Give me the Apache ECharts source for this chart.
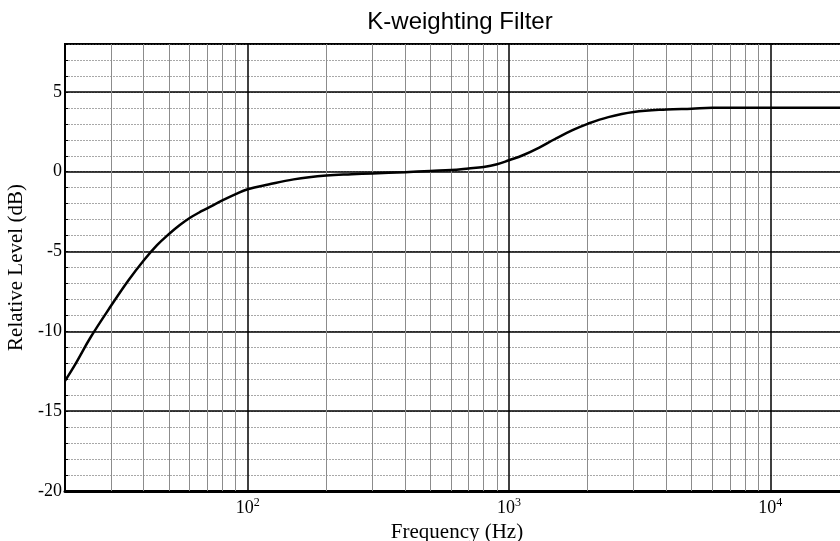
<!DOCTYPE html>
<html>
<head>
<meta charset="utf-8">
<script src="https://cdn.jsdelivr.net/npm/echarts@6/dist/echarts.min.js"></script>
<style>
  html, body { margin: 0; padding: 0; background: #fff; }
  #main { width: 840px; height: 541px; }
</style>
</head>
<body>
<div id="main"></div>
<script>
// 频率 (Hz) 和 电平 (dB)，从图上读出来的
var freqs = [20, 22, 25, 30, 35, 40, 45, 50, 55, 60, 65, 70, 80, 90, 100, 120, 150, 200, 250, 300, 400, 500, 600, 700, 800, 900, 1000, 1130, 1300, 1500, 1750, 2000, 2400, 3000, 4000, 5000, 6000, 8000, 10000, 20000];
var levels = [-13.1, -12.0, -10.4, -8.4, -6.8, -5.56, -4.6, -3.9, -3.34, -2.9, -2.57, -2.3, -1.8, -1.4, -1.1, -0.8, -0.48, -0.24, -0.16, -0.11, -0.03, 0.05, 0.1, 0.2, 0.3, 0.47, 0.72, 1.03, 1.5, 2.05, 2.6, 3.0, 3.42, 3.74, 3.9, 3.95, 4.0, 4.0, 4.0, 4.0];

// 刻度
var decadeExps = [2, 3, 4];
var minorFreqs = [30, 40, 50, 60, 70, 80, 90, 200, 300, 400, 500, 600, 700, 800, 900, 2000, 3000, 4000, 5000, 6000, 7000, 8000, 9000];
var yTicks = [-20, -15, -10, -5, 0, 5];

var serif = '"Liberation Serif", "DejaVu Serif", serif';

var myChart = echarts.init(document.getElementById('main'));

var pts = [];
for (var i = 0; i < freqs.length; i++) {
    pts.push([freqs[i], levels[i]]);
}

var vLines = [];
for (var j = 0; j < minorFreqs.length; j++) {
    vLines.push({ xAxis: minorFreqs[j] });
}

var option = {
    animation: false,
    title: {
        text: 'K-weighting Filter',
        left: 455,
        top: 5,
        textAlign: 'center',
        textStyle: {
            fontFamily: '"Liberation Sans", Arial, sans-serif',
            fontWeight: 'normal',
            fontSize: 24,
            color: '#000'
        }
    },
    grid: {
        left: 65,
        top: 44,
        height: 447,
        width: 784,
        outerBoundsMode: 'none',
        containLabel: false,
        show: true,
        borderColor: '#000',
        borderWidth: 2
    },
    xAxis: {
        type: 'log',
        logBase: 10,
        min: 20,
        max: 20000,
        name: 'Frequency (Hz)',
        nameLocation: 'middle',
        nameGap: 28,
        nameTextStyle: { fontFamily: serif, fontSize: 21, color: '#000' },
        axisLine: { onZero: false, lineStyle: { color: '#000', width: 3 } },
        axisTick: { show: false },
        splitLine: { show: true, lineStyle: { color: '#000', width: 1.5 } },
        axisLabel: {
            margin: 6,
            formatter: function (v) {
                var e = Math.round(Math.log10(v));
                if (decadeExps.indexOf(e) < 0 || Math.abs(Math.pow(10, e) - v) > 1e-6 * v) return '';
                return '{b|10}{s|' + e + '}';
            },
            rich: {
                b: { fontFamily: serif, fontSize: 18, color: '#000', lineHeight: 20, verticalAlign: 'bottom' },
                s: { fontFamily: serif, fontSize: 12, color: '#000', lineHeight: 20, verticalAlign: 'top' }
            }
        }
    },
    yAxis: [
        {
            // 细网格线 每 1 dB
            type: 'value',
            min: -20,
            max: 8,
            interval: 1,
            position: 'left',
            axisLine: { show: false },
            axisLabel: { show: false },
            axisTick: { show: true, inside: true, length: 3, lineStyle: { color: '#000' } },
            splitLine: { show: true, lineStyle: { color: '#a8a8a8', width: 1, type: [2, 1] } }
        },
        {
            type: 'value',
            min: -20,
            max: 8,
            interval: 5,
            position: 'left',
            name: 'Relative Level (dB)',
            nameLocation: 'middle',
            nameGap: 31,
            nameTextStyle: { fontFamily: serif, fontSize: 21, color: '#000' },
            axisLine: { show: true, onZero: false, lineStyle: { color: '#000', width: 2 } },
            axisTick: { show: false },
            axisLabel: {
                margin: 3,
                fontFamily: serif,
                fontSize: 18,
                color: '#000',
                formatter: function (v) {
                    return yTicks.indexOf(v) >= 0 ? String(v) : '';
                }
            },
            splitLine: { show: true, lineStyle: { color: '#000', width: 1.5 } }
        }
    ],
    series: [
        {
            name: 'K',
            type: 'line',
            yAxisIndex: 1,
            data: pts,
            smooth: 0.4,
            symbol: 'none',
            lineStyle: { color: '#000', width: 2.5 },
            markLine: {
                silent: true,
                symbol: 'none',
                label: { show: false },
                lineStyle: { color: '#8c8c8c', width: 1, type: 'solid' },
                data: vLines
            },
            z: 5
        }
    ]
};

myChart.setOption(option);
</script>
</body>
</html>
